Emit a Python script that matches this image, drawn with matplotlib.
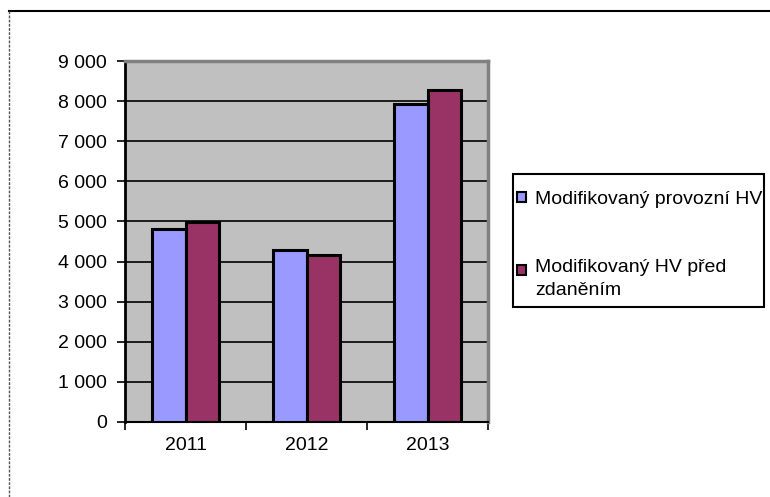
import matplotlib
matplotlib.use("Agg")
import matplotlib.pyplot as plt
from matplotlib.lines import Line2D
from matplotlib.patches import Rectangle
from matplotlib.legend_handler import HandlerPatch
import numpy as np

plt.rcParams['font.family'] = ['Liberation Sans', 'DejaVu Sans']

years = ["2011", "2012", "2013"]
provozni_hv = [4800, 4290, 7930]
hv_pred_zdanenim = [4980, 4165, 8280]
series_labels = ["Modifikovaný provozní HV", "Modifikovaný HV před\nzdaněním"]
y_ticks = [0, 1000, 2000, 3000, 4000, 5000, 6000, 7000, 8000, 9000]
y_tick_labels = ["0", "1 000", "2 000", "3 000", "4 000", "5 000",
                 "6 000", "7 000", "8 000", "9 000"]

W, H = 770, 497
FS = 14
fig = plt.figure(figsize=(W / 100, H / 100), dpi=100)
fig.patch.set_facecolor("white")

ax = fig.add_axes([125 / W, 1 - 422 / H, (488 - 125) / W, (422 - 61) / H])
ax.set_facecolor("#C0C0C0")

x = np.arange(len(years))
bw = 0.28
bars1 = ax.bar(x - bw / 2, provozni_hv, bw, color="#9999FF",
               edgecolor="black", linewidth=2.2, label=series_labels[0],
               zorder=3)
bars2 = ax.bar(x + bw / 2, hv_pred_zdanenim, bw, color="#993366",
               edgecolor="black", linewidth=2.2, label=series_labels[1],
               zorder=3)

ax.set_xlim(-0.5, 2.5)
ax.set_ylim(0, 9000)
ax.set_yticks(y_ticks)
ax.set_yticklabels(y_tick_labels)
ax.set_xticks([-0.5, 0.5, 1.5, 2.5], minor=False)
ax.set_xticklabels([])
ax.set_xticks(x, minor=True)
ax.set_xticklabels(years, minor=True)
ax.tick_params(axis="x", which="minor", length=0, pad=11, labelsize=FS)
ax.tick_params(axis="x", which="major", length=6, width=1.2, direction="out")
ax.tick_params(axis="y", length=6, width=1.2, direction="out", pad=7,
               labelsize=FS)

ax.yaxis.grid(True, color="black", linewidth=1.2, zorder=1)
ax.set_axisbelow(True)

ax.spines["left"].set_color("black")
ax.spines["left"].set_linewidth(2)
ax.spines["bottom"].set_color("black")
ax.spines["bottom"].set_linewidth(1.5)
ax.spines["top"].set_color("#808080")
ax.spines["top"].set_linewidth(2.5)
ax.spines["right"].set_color("#808080")
ax.spines["right"].set_linewidth(2.5)


def first_line_square(legend, orig_handle, xdescent, ydescent, width,
                      height, fontsize):
    # keep the swatch level with the first line of a two-line label
    return Rectangle((-xdescent, -ydescent + 0.43 * fontsize), width, height)


def style_from_first_bar(legend_patch, container):
    legend_patch.update_from(container.patches[0])


# legend frame drawn as its own box, entries placed inside it
fig.add_artist(Rectangle((513 / W, 1 - 307 / H), (764 - 513) / W,
                         (307 - 174) / H, transform=fig.transFigure,
                         facecolor="white", edgecolor="black",
                         linewidth=1.5, zorder=4))
leg = fig.legend(loc="upper left", bbox_to_anchor=(517 / W, 1 - 191 / H),
                 frameon=False, fontsize=FS,
                 handlelength=0.45, handleheight=0.45, handletextpad=0.48,
                 labelspacing=2.6, borderpad=0.0, borderaxespad=0,
                 handler_map={bars2: HandlerPatch(
                     patch_func=first_line_square,
                     update_func=style_from_first_bar)})
leg.set_zorder(5)
for h in leg.legend_handles:
    h.set_linewidth(1.5)
for t in leg.get_texts():
    t.set_linespacing(1.48)

# outer chart border (top and left edges)
fig.add_artist(Line2D([9 / W, 1.0], [1 - 11 / H, 1 - 11 / H],
                      transform=fig.transFigure, color="black", linewidth=1.5))
fig.add_artist(Line2D([9 / W, 9 / W], [0, 1 - 11 / H],
                      transform=fig.transFigure, color="#555555",
                      linewidth=1, linestyle=(0, (2, 1))))

fig.savefig("out.png", dpi=100)
